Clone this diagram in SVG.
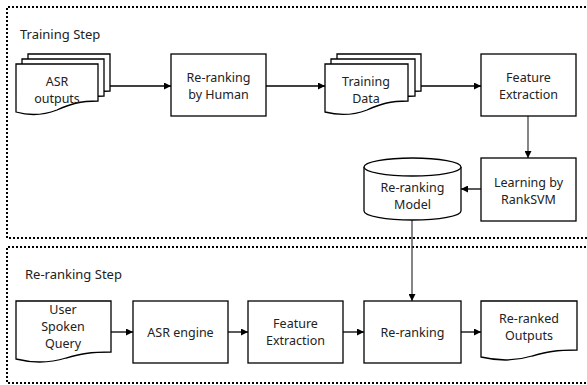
<svg xmlns="http://www.w3.org/2000/svg" width="587" height="385" viewBox="0 0 587 385">
<style>
.frame{fill:none;stroke:#000;stroke-width:2;stroke-dasharray:2 2}
.shape{fill:#fff;stroke:#000;stroke-width:1.3}
.lbl{font-family:"Noto Sans","Open Sans",sans-serif;font-size:12.5px;fill:#222;text-anchor:middle}
.title{font-family:"Noto Sans","Open Sans",sans-serif;font-size:13px;fill:#222}
.conn{fill:none;stroke:#000;stroke-width:1.3}
.conn.gray{stroke:#444}
</style>
<defs>
<marker id="arr" viewBox="0 0 10 10" refX="10" refY="5" markerWidth="7" markerHeight="7" markerUnits="userSpaceOnUse" orient="auto">
<path d="M0,0 L10,5 L0,10 Z" fill="#000"/>
</marker>
</defs>
<rect width="587" height="385" fill="#fff"/>
<g id="training-frame">
<path class="frame" d="M590,7 H7 V238 H590"/>
<text class="title" x="20" y="39">Training Step</text>
</g>
<g id="reranking-frame">
<path class="frame" d="M590,247 H7 V383 H590"/>
<text class="title" x="25" y="279">Re-ranking Step</text>
</g>
<g id="connectors">
<line class="conn" x1="110" y1="86" x2="171" y2="86" marker-end="url(#arr)"/>
<line class="conn" x1="266" y1="86" x2="325" y2="86" marker-end="url(#arr)"/>
<line class="conn" x1="421" y1="86" x2="481" y2="86" marker-end="url(#arr)"/>
<line class="conn gray" x1="528" y1="116" x2="528" y2="158" marker-end="url(#arr)"/>
<line class="conn" x1="481" y1="189" x2="461" y2="189" marker-end="url(#arr)"/>
<line class="conn gray" x1="412" y1="220" x2="412" y2="301" marker-end="url(#arr)"/>
<line class="conn" x1="111" y1="332" x2="133" y2="332" marker-end="url(#arr)"/>
<line class="conn" x1="228" y1="332" x2="248" y2="332" marker-end="url(#arr)"/>
<line class="conn" x1="343" y1="332" x2="364" y2="332" marker-end="url(#arr)"/>
<line class="conn" x1="461" y1="332" x2="481" y2="332" marker-end="url(#arr)"/>
</g>
<g id="asr-outputs">
<path class="shape" d="M28,54 H110 V91 C92,91 82,94 69,100 C56,105 42,106 28,102 Z"/>
<path class="shape" d="M22,59 H104 V96 C86,96 76,99 63,105 C50,110 36,111 22,107 Z"/>
<path class="shape" d="M16,64 H98 V101 C80,101 70,104 57,110 C44,115 30,116 16,112 Z"/>
<text class="lbl" x="57" y="85.5">ASR</text>
<text class="lbl" x="57" y="102.5">outputs</text>
</g>
<g id="rerank-human">
<rect class="shape" x="171" y="54" width="95" height="62"/>
<text class="lbl" x="218.5" y="81.5">Re-ranking</text>
<text class="lbl" x="218.5" y="98.5">by Human</text>
</g>
<g id="training-data">
<path class="shape" d="M337,54 H421 V91 C403,91 393,94 380,100 C367,105 352,106 337,102 Z"/>
<path class="shape" d="M331,59 H415 V96 C397,96 387,99 374,105 C361,110 346,111 331,107 Z"/>
<path class="shape" d="M325,64 H408 V101 C390,101 380,104 367,110 C354,115 340,116 325,112 Z"/>
<text class="lbl" x="366" y="85.5">Training</text>
<text class="lbl" x="366" y="102.5">Data</text>
</g>
<g id="feature-extraction-1">
<rect class="shape" x="481" y="54" width="95" height="62"/>
<text class="lbl" x="528.5" y="81.5">Feature</text>
<text class="lbl" x="528.5" y="98.5">Extraction</text>
</g>
<g id="learning-ranksvm">
<rect class="shape" x="481" y="158" width="95" height="63"/>
<text class="lbl" x="528.5" y="186.5">Learning by</text>
<text class="lbl" x="528.5" y="203.5">RankSVM</text>
</g>
<g id="reranking-model">
<path class="shape" d="M364,167 V211 A48.5,9 0 0 0 461,211 V167"/>
<ellipse class="shape" cx="412.5" cy="167" rx="48.5" ry="9"/>
<text class="lbl" x="412.5" y="191.5">Re-ranking</text>
<text class="lbl" x="412.5" y="208.5">Model</text>
</g>
<g id="user-query">
<path class="shape" d="M16,301 H111 V352 C90,352 80,354 66,358 C50,363 32,363 16,359 Z"/>
<text class="lbl" x="63" y="314">User</text>
<text class="lbl" x="63" y="331">Spoken</text>
<text class="lbl" x="63" y="348">Query</text>
</g>
<g id="asr-engine">
<rect class="shape" x="133" y="301" width="95" height="62"/>
<text class="lbl" x="180.5" y="337">ASR engine</text>
</g>
<g id="feature-extraction-2">
<rect class="shape" x="248" y="301" width="95" height="62"/>
<text class="lbl" x="295.5" y="328">Feature</text>
<text class="lbl" x="295.5" y="345">Extraction</text>
</g>
<g id="reranking">
<rect class="shape" x="364" y="301" width="97" height="62"/>
<text class="lbl" x="412.5" y="337">Re-ranking</text>
</g>
<g id="reranked-outputs">
<path class="shape" d="M481,301 H577 V350 C556,350 546,352 532,356 C516,361 498,361 481,357 Z"/>
<text class="lbl" x="529" y="322.5">Re-ranked</text>
<text class="lbl" x="529" y="339.5">Outputs</text>
</g>
</svg>
